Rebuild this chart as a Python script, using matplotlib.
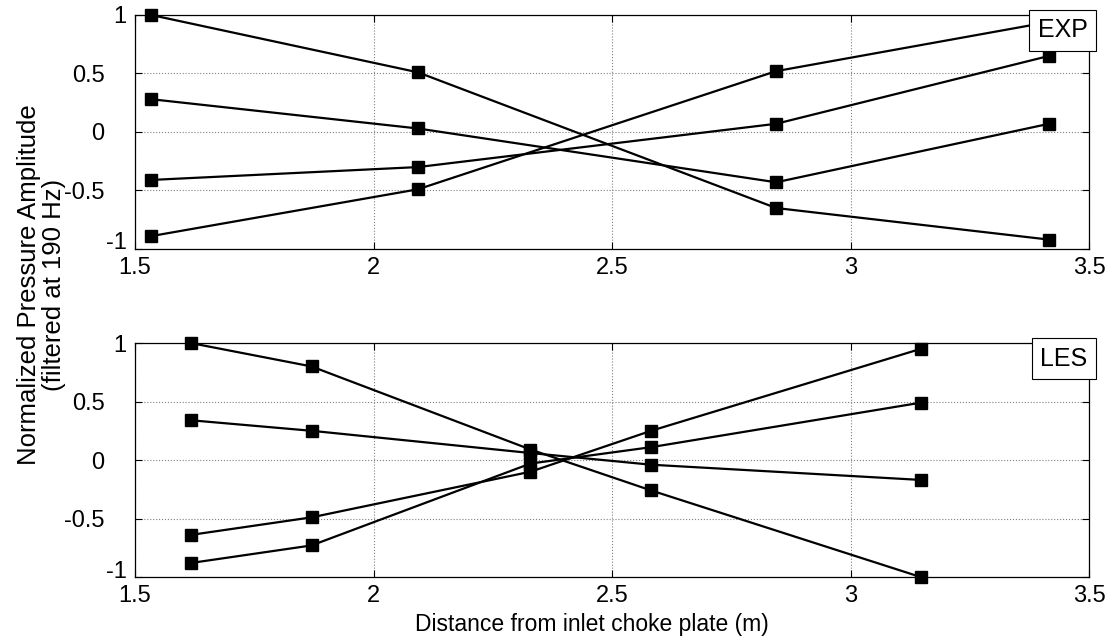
import matplotlib
matplotlib.use('Agg')
import matplotlib.pyplot as plt
from matplotlib.transforms import ScaledTranslation

plt.rcParams['font.family'] = ['Liberation Sans', 'DejaVu Sans']
plt.rcParams['font.size'] = 17

# EXP (top panel) - four mode shapes at the measurement stations
x_exp = [1.534, 2.093, 2.844, 3.416]
exp_a = [1.00, 0.51, -0.65, -0.92]
exp_b = [0.28, 0.03, -0.43, 0.07]
exp_c = [-0.41, -0.30, 0.07, 0.65]
exp_d = [-0.89, -0.49, 0.52, 0.94]

# LES (bottom panel)
x_les = [1.617, 1.870, 2.329, 2.582, 3.147]
les_a = [1.00, 0.80, 0.09, -0.26, -1.00]
les_b = [0.34, 0.25, 0.06, -0.04, -0.17]
les_c = [-0.64, -0.49, -0.10, 0.25, 0.95]
les_d = [-0.88, -0.73, -0.03, 0.11, 0.49]

xticks = [1.5, 2, 2.5, 3, 3.5]
yticks = [-1, -0.5, 0, 0.5, 1]
xtick_labels = ['1.5', '2', '2.5', '3', '3.5']
ytick_labels = ['-1', '-0.5', '0', '0.5', '1']

fig = plt.figure(figsize=(11.12, 6.43), dpi=100)
ax1 = fig.add_axes([0.1214, 0.6128, 0.858, 0.3639])
ax2 = fig.add_axes([0.1214, 0.1026, 0.858, 0.3639])


def style(ax, tag):
    ax.set_xlim(1.5, 3.5)
    ax.set_ylim(-1, 1)
    ax.set_xticks(xticks)
    ax.set_xticklabels(xtick_labels)
    ax.set_yticks(yticks)
    ax.set_yticklabels(ytick_labels)
    ax.tick_params(direction='in', top=True, right=True, length=5, width=0.8,
                   pad=6)
    ax.grid(True, linestyle=':', color='#808080', linewidth=0.8)
    for s in ax.spines.values():
        s.set_linewidth(0.9)
    ax.text(0.9985, 0.985, tag, transform=ax.transAxes, ha='right', va='top',
            fontsize=18, zorder=10,
            bbox=dict(boxstyle='square,pad=0.35', fc='white', ec='black', lw=0.8))
    # the inner y labels sit further out from the axis, "-1" sits a bit higher
    for lab in ax.get_yticklabels():
        t = lab.get_text()
        if t in ('0.5', '0', '-0.5'):
            lab.set_transform(lab.get_transform() +
                              ScaledTranslation(-0.22, 0, fig.dpi_scale_trans))
        elif t == '-1':
            lab.set_transform(lab.get_transform() +
                              ScaledTranslation(0, 0.08, fig.dpi_scale_trans))


for ys in (exp_a, exp_b, exp_c, exp_d):
    ax1.plot(x_exp, ys, '-s', color='black', lw=1.6, ms=8.5, clip_on=False)
for ys in (les_a, les_b, les_c, les_d):
    ax2.plot(x_les, ys, '-s', color='black', lw=1.6, ms=8.5, clip_on=False)

style(ax1, 'EXP')
style(ax2, 'LES')

ax2.set_xlabel('Distance from inlet choke plate (m)', fontsize=16.5, labelpad=2)
ax2.xaxis.set_label_coords(0.479, -0.155)
fig.text(0.037, 0.557, 'Normalized Pressure Amplitude\n(filtered at 190 Hz)',
         rotation=90, ha='center', va='center', fontsize=18.5, linespacing=1.05)

fig.savefig('out.png', dpi=100)
